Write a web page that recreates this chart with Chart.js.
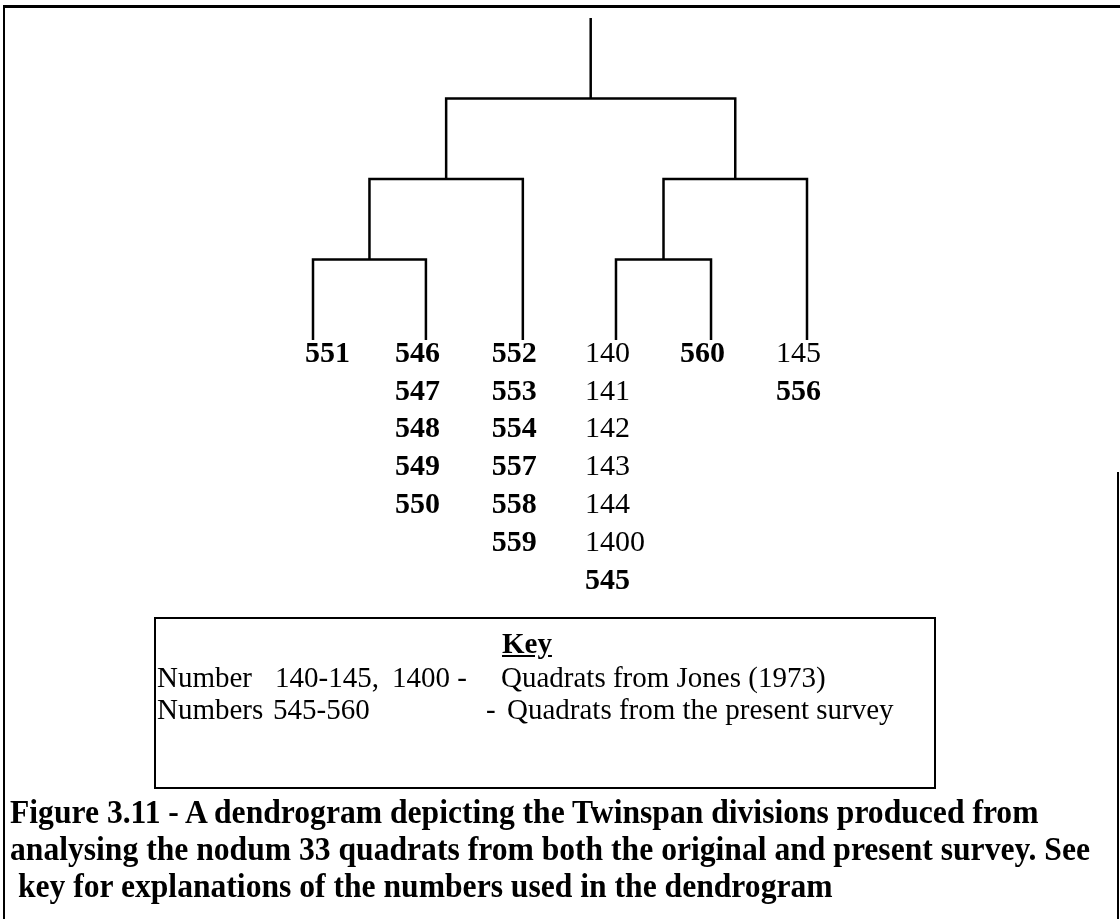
<!DOCTYPE html>
<html>
<head>
<meta charset="utf-8">
<script src="https://cdn.jsdelivr.net/npm/chart.js@4.4.0/dist/chart.umd.min.js"></script>
<style>
  html, body { margin: 0; padding: 0; background: #fff; }
  #page { position: relative; width: 1120px; height: 919px; overflow: hidden; font-family: "Liberation Serif", "Times New Roman", serif; color: #000; }
  #frame { position: absolute; left: 3px; top: 5px; width: 1300px; height: 1000px; border-left: 2px solid #000; border-top: 3px solid #000; }
  #rightEdge { position: absolute; left: 1117px; top: 472px; width: 2px; height: 460px; background: #000; }
  #dendro { position: absolute; left: 0; top: 0; }
  #key { position: absolute; left: 154px; top: 617px; width: 782px; height: 172px; border: 2px solid #000; box-sizing: border-box; font-size: 29px; }
  #key span { position: absolute; white-space: pre; line-height: 1; }
  .keyTitle { font-weight: bold; text-decoration: underline; }
  #caption { position: absolute; left: 10px; top: 794px; font-weight: bold; font-size: 33px; }
  #caption div { white-space: pre; line-height: 37px; transform-origin: 0 0; }
</style>
</head>
<body>
<div id="page">
  <div id="frame"></div>
  <div id="rightEdge"></div>
  <canvas id="dendro" width="1120" height="919"></canvas>

  <div id="key">
    <span class="keyTitle" style="left:346px; top:10px;">Key</span>
    <span style="left:1px; top:44px;">Number</span>
    <span style="left:119px; top:44px;">140-145,</span>
    <span style="left:236px; top:44px;">1400 -</span>
    <span style="left:345px; top:44px;">Quadrats from Jones (1973)</span>
    <span style="left:1px; top:76px;">Numbers</span>
    <span style="left:117px; top:76px;">545-560</span>
    <span style="left:330px; top:76px;">-</span>
    <span style="left:351px; top:76px;">Quadrats from the present survey</span>
  </div>

  <div id="caption">
    <div>Figure 3.11 - A dendrogram depicting the Twinspan divisions produced from</div>
    <div>analysing the nodum 33 quadrats from both the original and present survey. See</div>
    <div> key for explanations of the numbers used in the dendrogram</div>
  </div>
</div>

<script>
// ===== DỮ LIỆU =====
const leafNames = ["551", "546", "552", "140", "560", "145"];
const leafSlots = [0, 1.2, 2.23, 3.22, 4.23, 5.25];
const leafMembers = [
  [551],
  [546, 547, 548, 549, 550],
  [552, 553, 554, 557, 558, 559],
  [140, 141, 142, 143, 144, 1400, 545],
  [560],
  [145, 556],
];
// [left node, right node, division level] - nodes 0..5 are the leaves, 6.. the merges
const merges = [
  [0, 1, 1],
  [6, 2, 2],
  [3, 4, 1],
  [8, 5, 2],
  [7, 9, 3],
];
const rootLevel = 4;
const surveyRange = [545, 560]; // present survey -> bold

// ===== LAYOUT =====
const labelShift = [-8, -31, -31, -31, -31, -31];
const labelTop = 14;
const rowGap = 37.8;

document.addEventListener("DOMContentLoaded", function () {
  // tính toạ độ các nút
  let nodeX = leafSlots.slice();
  let nodeH = leafSlots.map(() => 0);
  merges.forEach((m) => {
    nodeX.push((nodeX[m[0]] + nodeX[m[1]]) / 2);
    nodeH.push(m[2]);
  });

  let datasets = merges.map((m) => ({
    data: [
      { x: nodeX[m[0]], y: nodeH[m[0]] },
      { x: nodeX[m[0]], y: m[2] },
      { x: nodeX[m[1]], y: m[2] },
      { x: nodeX[m[1]], y: nodeH[m[1]] },
    ],
  }));
  const top = nodeX.length - 1;
  datasets.push({
    data: [
      { x: nodeX[top], y: nodeH[top] },
      { x: nodeX[top], y: rootLevel },
    ],
  });
  datasets.forEach((d) => {
    d.showLine = true;
    d.borderColor = "#000";
    d.borderWidth = 2.5;
    d.pointRadius = 0;
    d.tension = 0;
    d.clip = false;
    d.borderJoinStyle = "miter";
  });

  const leafLabels = {
    id: "leafLabels",
    afterDatasetsDraw(chart) {
      const ctx = chart.ctx;
      const xs = chart.scales.x;
      const ys = chart.scales.y;
      ctx.save();
      ctx.fillStyle = "#000";
      ctx.textAlign = "left";
      ctx.textBaseline = "middle";
      leafMembers.forEach((list, i) => {
        let px = xs.getPixelForValue(leafSlots[i]) + labelShift[i];
        list.forEach((num, j) => {
          let bold = num >= surveyRange[0] && num <= surveyRange[1];
          ctx.font = (bold ? "bold " : "") + "30px 'Liberation Serif'";
          ctx.fillText(String(num), px, ys.getPixelForValue(0) + labelTop + j * rowGap);
        });
      });
      ctx.restore();
    },
  };

  new Chart(document.getElementById("dendro").getContext("2d"), {
    type: "scatter",
    data: { datasets: datasets },
    options: {
      responsive: false,
      animation: false,
      devicePixelRatio: 1,
      layout: { padding: { left: 313, right: 313, top: 18, bottom: 579 } },
      plugins: { legend: { display: false }, tooltip: { enabled: false } },
      scales: {
        x: { type: "linear", display: false, min: 0, max: leafSlots[leafSlots.length - 1] },
        y: { type: "linear", display: false, min: 0, max: rootLevel },
      },
    },
    plugins: [leafLabels],
  });

  // co giãn chú thích cho vừa bề ngang
  const lines = document.querySelectorAll("#caption div");
  const range = document.createRange();
  range.selectNodeContents(lines[1]);
  const textW = range.getBoundingClientRect().width;
  const sx = 1080 / textW;
  lines.forEach((l) => (l.style.transform = "scaleX(" + sx + ")"));
});
</script>
</body>
</html>
